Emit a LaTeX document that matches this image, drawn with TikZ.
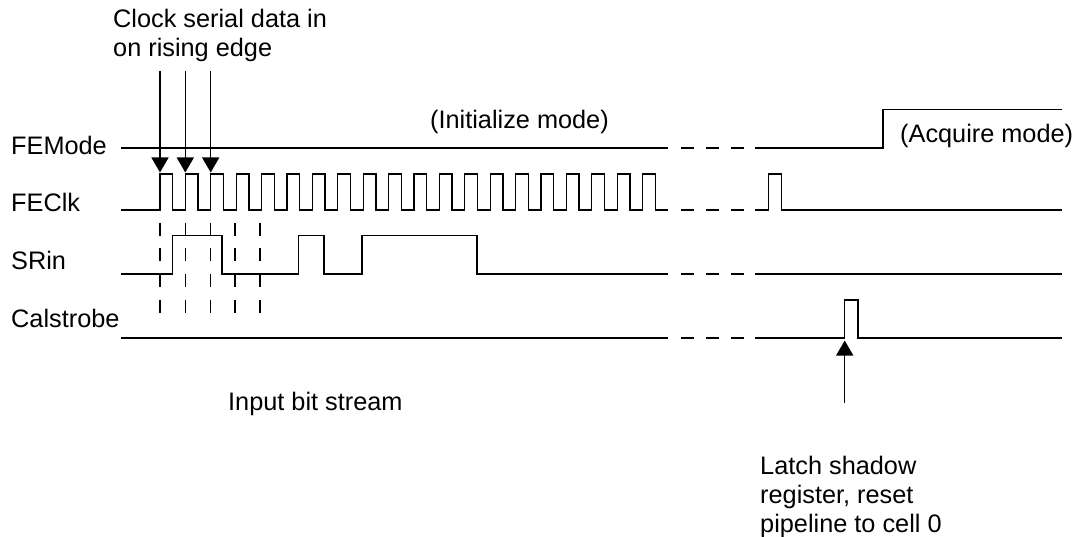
\documentclass[tikz,border=0pt]{standalone}
\usepackage{fontspec}
\setmainfont{Liberation Sans}
\usetikzlibrary{arrows.meta}

\tikzset{
  lbl/.style={anchor=base west,inner sep=0pt,font=\fontsize{25.3}{29}\selectfont},
  lblblock/.style={anchor=north west,inner sep=0pt,align=left,font=\fontsize{25.3}{29}\selectfont},
  wave/.style={line width=1.35pt},
  gapdash/.style={line width=1.35pt,dash pattern=on 13.5pt off 11.5pt},
  tick/.style={line width=1.35pt,dash pattern=on 13pt off 12.7pt},
  pointer/.style={line width=1.35pt,-{Triangle[length=15pt,width=17pt]}}
}

\begin{document}
\begin{tikzpicture}[x=1pt,y=-1pt]
  \useasboundingbox (0,0) rectangle (1076,537);

  % Signal names
  \node[lbl] (femode) at (11,155) {FEMode};
  \node[lbl] (feclk) at (11,211.7) {FEClk};
  \node[lbl] (srin) at (11,270) {SRin};
  \node[lbl] (calstrobe) at (11,327) {Calstrobe};

  % Captions
  \node[lblblock] (clocknote) at (113,8.5) {Clock serial data in\\on rising edge};
  \node[lbl] (initmode) at (430,128.3) {(Initialize mode)};
  \node[lbl] (acqmode) at (900,142.7) {(Acquire mode)};
  \node[lbl] (bitstream) at (228,410) {Input bit stream};
  \node[lblblock] (latchnote) at (760,456) {Latch shadow\\register, reset\\pipeline to cell 0};

  % FEMode: up to the break, then step
  \draw[wave] (121,148) -- (668,148);
  \draw[wave] (755,148) -- (883,148) -- (883,109.7) -- (1062,109.7);

  % FEClk: 20 pulses, break, one pulse
  \draw[wave] (121,210) \foreach \i in {0,...,19} {
      -- ({160+25.4*\i},210) -- ({160+25.4*\i},174)
      -- ({172.7+25.4*\i},174) -- ({172.7+25.4*\i},210)
    } -- (668,210);
  \draw[wave] (755,210) -- (768.3,210) -- (768.3,174) -- (781.3,174)
    -- (781.3,210) -- (1062,210);

  % SRin: input bits
  \draw[wave] (121,274) -- (172.7,274) -- (172.7,235.7) -- (222,235.7)
    -- (222,274) -- (298.3,274) -- (298.3,235.7) -- (324,235.7)
    -- (324,274) -- (362,274) -- (362,235.7) -- (477,235.7)
    -- (477,274) -- (668,274);
  \draw[wave] (755,274) -- (1062,274);

  % Calstrobe: one pulse after the break
  \draw[wave] (121,338) -- (668,338);
  \draw[wave] (755,338) -- (844.7,338) -- (844.7,300) -- (858,300)
    -- (858,338) -- (1062,338);

  % Breaks in the four lines
  \foreach \y in {148,210,274,338} {
    \draw[gapdash] (680.5,\y) -- (745,\y);
  }

  % Sampling ticks
  \foreach \x in {160,185.3,210.7,235,260} {
    \draw[tick] (\x,222.7) -- (\x,313);
  }

  % Arrows to the rising edges
  \foreach \x [count=\n] in {160,185.3,210.7} {
    \coordinate (clkfrom\n) at (\x,71);
    \coordinate (clkto\n) at (\x,172.5);
    \draw[pointer] (clkfrom\n) -- (clkto\n);
  }

  % Arrow to the Calstrobe pulse
  \coordinate (strobefrom) at (844.7,402.7);
  \coordinate (strobeto) at (844.7,340.5);
  \draw[pointer] (strobefrom) -- (strobeto);
\end{tikzpicture}
\end{document}
